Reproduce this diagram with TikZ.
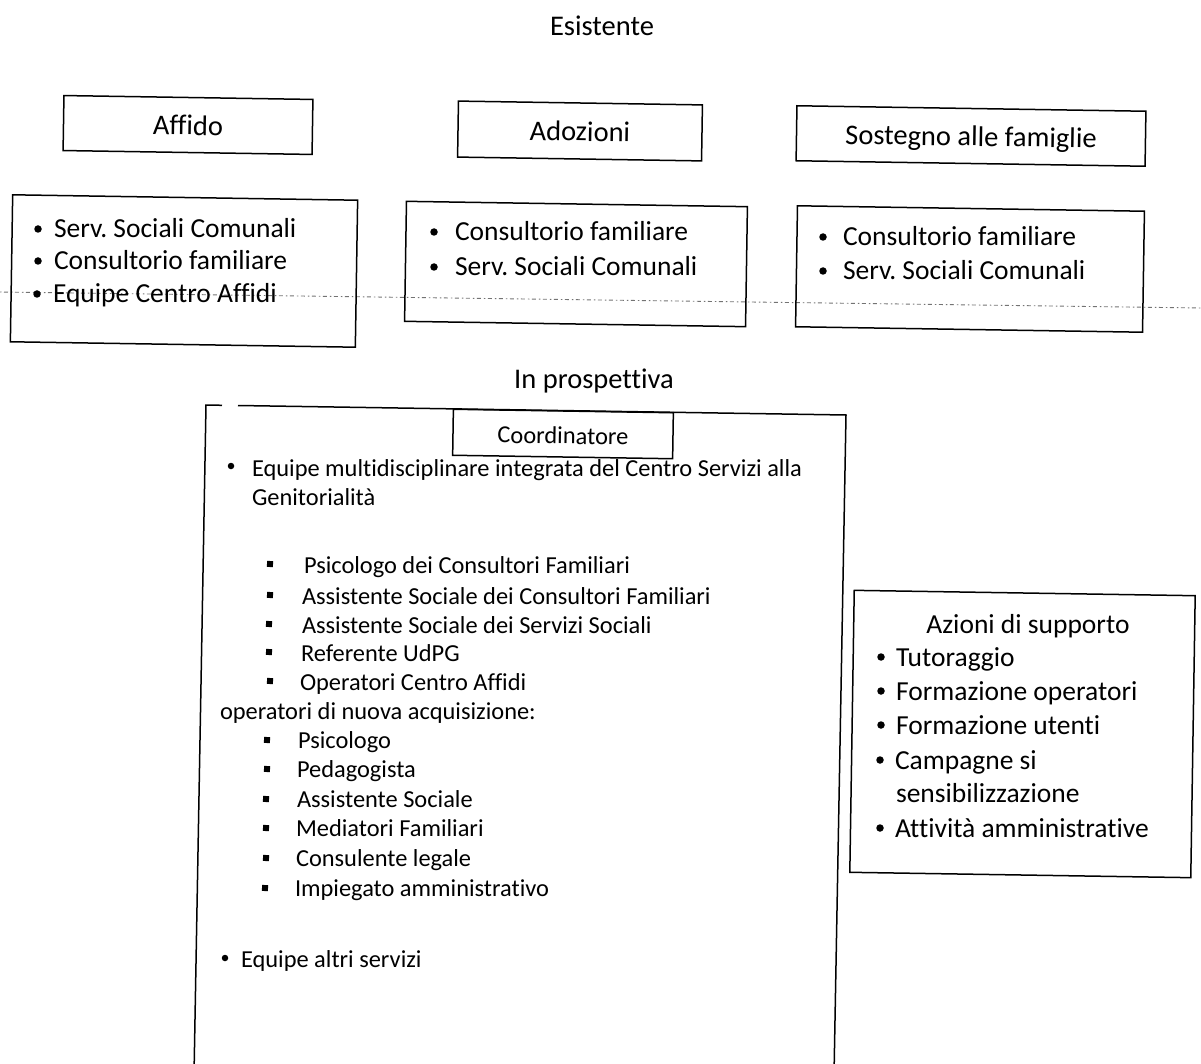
\documentclass[tikz,border=0pt]{standalone}
\usepackage{fontspec}
\setmainfont{Carlito}[Ligatures=NoCommon]
\frenchspacing
\begin{document}
\begin{tikzpicture}[x=1pt,y=-1pt,
  every node/.style={inner sep=0pt, outer sep=0pt},
  frame/.style={draw, line width=1.5pt, rotate=-0.9},
  titlebox/.style={frame, font=\fontsize{28.5}{34}\selectfont, text height=20pt, text depth=0pt},
  head/.style={font=\fontsize{28.5}{34}\selectfont},
  item/.style={anchor=base west, font=\fontsize{27.5}{33}\selectfont},
  small/.style={anchor=base west, font=\fontsize{24.4}{29}\selectfont},
  dot/.style={circle, fill=black, minimum size=7.5pt},
  sq/.style={rectangle, fill=black, minimum size=6pt, rotate=-0.9},
  dotline/.style={draw=black!55, line width=0.9pt, dash pattern=on 1.5pt off 2.5pt on 4pt off 3pt},
  bigline/.style={line width=1.5pt},
]
\useasboundingbox (0,0) rectangle (1201,1064);
\clip (0,0) rectangle (1201,1064);

% dotted line across the top section
\coordinate (dl) at (0,292);
\coordinate (dr) at (1201,308);
\draw[dotline] (dl) -- (dr);

% headings
\node[head] (esistente) at (602,26) {Esistente};
\node[head] (prosp) at (594,381) {In prospettiva};

% title boxes
\node[titlebox, minimum width=249pt, minimum height=55pt] (affido) at (188,125) {Affido};
\node[titlebox, minimum width=244pt, minimum height=56pt] (adozioni) at (580,131) {Adozioni};
\node[titlebox, minimum width=349pt, minimum height=55pt] (sostegno) at (971,136) {Sostegno alle famiglie};

% list boxes
\node[frame, minimum width=345pt, minimum height=147pt] (affidolist) at (184,271) {};
\node[frame, minimum width=341pt, minimum height=120pt] (adozlist) at (576,264) {};
\node[frame, minimum width=347pt, minimum height=121pt] (sostlist) at (970,269) {};

% Affido items
\node[dot] (af1b) at (38,229) {};
\node[item] (af1) at (54,238) {Serv. Sociali Comunali};
\node[dot] (af2b) at (38,261) {};
\node[item] (af2) at (54,270) {Consultorio familiare};
\node[dot] (af3b) at (37,294) {};
\node[item] (af3) at (53,303) {Equipe Centro Affidi};

% Adozioni items
\node[dot] (ad1b) at (434,232) {};
\node[item] (ad1) at (455,241) {Consultorio familiare};
\node[dot] (ad2b) at (434,267) {};
\node[item] (ad2) at (455,276) {Serv. Sociali Comunali};

% Sostegno items
\node[dot] (so1b) at (823,237) {};
\node[item] (so1) at (843,246) {Consultorio familiare};
\node[dot] (so2b) at (823,271) {};
\node[item] (so2) at (843,280) {Serv. Sociali Comunali};

% big box (In prospettiva)
\coordinate (bb1) at (222,405.3);
\coordinate (bb2) at (206,405);
\coordinate (bb3) at (194,1075);
\coordinate (bb4) at (238,405.5);
\coordinate (bb5) at (846,415);
\coordinate (bb6) at (834,1075);
\draw[bigline] (bb1) -- (bb2) -- (bb3);
\draw[bigline] (bb4) -- (bb5) -- (bb6);

\node[frame, font=\fontsize{24.4}{29}\selectfont, text height=20pt, text depth=0pt,
      minimum width=220pt, minimum height=46pt] (coord) at (563,434) {Coordinatore};

\node[dot, minimum size=6.5pt] (e1b) at (231,466) {};
\node[small] (e1) at (252,476) {Equipe multidisciplinare integrata del Centro Servizi alla};
\node[small] (e2) at (252,505) {Genitorialità};

\node[sq] (s1b) at (270,564) {};
\node[small] (s1) at (304,573) {Psicologo dei Consultori Familiari};
\node[sq] (s2b) at (270,595) {};
\node[small] (s2) at (302,604) {Assistente Sociale dei Consultori Familiari};
\node[sq] (s3b) at (269,624) {};
\node[small] (s3) at (302,633) {Assistente Sociale dei Servizi Sociali};
\node[sq] (s4b) at (269,652) {};
\node[small] (s4) at (301,661) {Referente UdPG};
\node[sq] (s5b) at (270,681) {};
\node[small] (s5) at (300,690) {Operatori Centro Affidi};

\node[small] (op) at (220,719) {operatori di nuova acquisizione:};

\node[sq] (n1b) at (267,740) {};
\node[small] (n1) at (298,748) {Psicologo};
\node[sq] (n2b) at (267,769) {};
\node[small] (n2) at (297,777) {Pedagogista};
\node[sq] (n3b) at (266,799) {};
\node[small] (n3) at (297,807) {Assistente Sociale};
\node[sq] (n4b) at (266,828) {};
\node[small] (n4) at (296,836) {Mediatori Familiari};
\node[sq] (n5b) at (266,858) {};
\node[small] (n5) at (296,866) {Consulente legale};
\node[sq] (n6b) at (265,888) {};
\node[small] (n6) at (295,896) {Impiegato amministrativo};

\node[dot, minimum size=6.5pt] (e3b) at (225,958) {};
\node[small] (e3) at (241,967) {Equipe altri servizi};

% Azioni di supporto
\node[frame, minimum width=341pt, minimum height=282pt] (azioni) at (1022.5,734) {};
\node[item, anchor=base] (azt) at (1028,633) {Azioni di supporto};
\node[dot] (z1b) at (881,657) {};
\node[item] (z1) at (896,666) {Tutoraggio};
\node[dot] (z2b) at (881,691) {};
\node[item] (z2) at (896,700) {Formazione operatori};
\node[dot] (z3b) at (881,725) {};
\node[item] (z3) at (896,734) {Formazione utenti};
\node[dot] (z4b) at (880,760) {};
\node[item] (z4) at (895,769) {Campagne si};
\node[item] (z5) at (896,802) {sensibilizzazione};
\node[dot] (z6b) at (880,828) {};
\node[item] (z6) at (895,837) {Attività amministrative};
\end{tikzpicture}
\end{document}
